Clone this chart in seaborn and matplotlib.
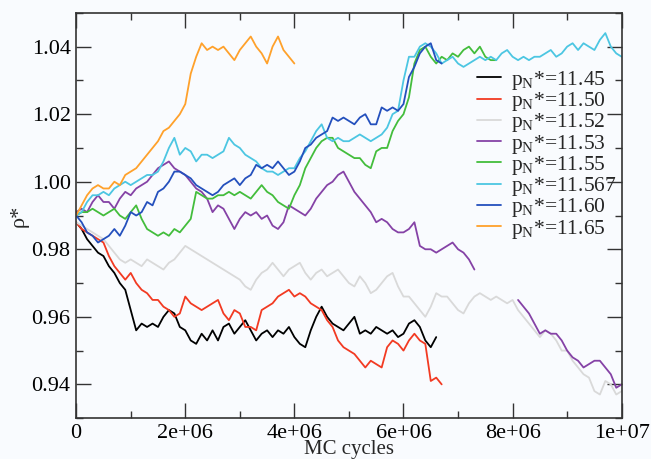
import numpy as np
import pandas as pd
import seaborn as sns
import matplotlib.pyplot as plt
from matplotlib.ticker import MultipleLocator

step = 1e5

rho_1145 = [0.988, 0.986, 0.983, 0.981, 0.979, 0.978, 0.975, 0.973, 0.970, 0.968,
            0.962, 0.956, 0.958, 0.957, 0.958, 0.957, 0.960, 0.962, 0.961, 0.957,
            0.956, 0.953, 0.952, 0.955, 0.953, 0.956, 0.953, 0.957, 0.958, 0.955,
            0.957, 0.959, 0.956, 0.953, 0.955, 0.956, 0.954, 0.956, 0.955, 0.957,
            0.954, 0.952, 0.951, 0.956, 0.960, 0.963, 0.960, 0.958, 0.957, 0.956,
            0.958, 0.960, 0.955, 0.956, 0.955, 0.957, 0.956, 0.955, 0.956, 0.954,
            0.955, 0.958, 0.959, 0.957, 0.953, 0.951, 0.954]

rho_1150 = [0.988, 0.986, 0.985, 0.984, 0.983, 0.982, 0.978, 0.975, 0.973, 0.971,
            0.973, 0.970, 0.968, 0.967, 0.965, 0.965, 0.963, 0.962, 0.960, 0.961,
            0.966, 0.964, 0.963, 0.962, 0.963, 0.964, 0.965, 0.961, 0.959, 0.962,
            0.961, 0.957, 0.957, 0.956, 0.962, 0.963, 0.964, 0.966, 0.967, 0.968,
            0.966, 0.967, 0.966, 0.964, 0.963, 0.962, 0.959, 0.957, 0.953, 0.951,
            0.950, 0.949, 0.947, 0.945, 0.947, 0.946, 0.945, 0.951, 0.953, 0.952,
            0.950, 0.953, 0.955, 0.953, 0.952, 0.941, 0.942, 0.940]

rho_1152 = [0.988, 0.987, 0.986, 0.985, 0.984, 0.983, 0.981, 0.979, 0.977, 0.976,
            0.977, 0.976, 0.975, 0.977, 0.976, 0.975, 0.974, 0.976, 0.977, 0.979,
            0.981, 0.980, 0.979, 0.978, 0.977, 0.976, 0.975, 0.974, 0.973, 0.972,
            0.971, 0.969, 0.968, 0.971, 0.973, 0.974, 0.976, 0.974, 0.972, 0.974,
            0.975, 0.976, 0.973, 0.971, 0.973, 0.974, 0.972, 0.973, 0.974, 0.972,
            0.970, 0.969, 0.972, 0.970, 0.967, 0.968, 0.970, 0.972, 0.973, 0.969,
            0.966, 0.966, 0.964, 0.962, 0.960, 0.963, 0.967, 0.966, 0.966, 0.964,
            0.962, 0.961, 0.964, 0.966, 0.967, 0.966, 0.965, 0.966, 0.965, 0.964,
            0.965, 0.962, 0.960, 0.958, 0.956, 0.954, 0.956, 0.955, 0.953, 0.950,
            0.950, 0.947, 0.945, 0.943, 0.942, 0.938, 0.937, 0.941, 0.940, 0.937,
            0.938]

rho_1153 = [0.991, 0.992, 0.991, 0.994, 0.996, 0.994, 0.994, 0.992, 0.995, 0.997,
            0.996, 0.998, 0.999, 1.000, 1.002, 1.004, 1.005, 1.006, 1.004, 1.003,
            1.002, 1.000, 0.998, 0.997, 0.995, 0.991, 0.993, 0.992, 0.989, 0.986,
            0.989, 0.991, 0.990, 0.991, 0.989, 0.990, 0.987, 0.986, 0.988, 0.993,
            0.992, 0.991, 0.990, 0.992, 0.995, 0.997, 0.999, 1.000, 1.002, 1.003,
            1.000, 0.997, 0.995, 0.993, 0.991, 0.988, 0.989, 0.988, 0.986, 0.985,
            0.985, 0.986, 0.988, 0.981, 0.980, 0.980, 0.979, 0.980, 0.981, 0.982,
            0.980, 0.979, 0.977, 0.974]
# the same run, seen again after the gap (8.1e6 .. 1e7)
rho_1153_late = [0.965, 0.963, 0.961, 0.958, 0.955, 0.956, 0.955, 0.955, 0.953, 0.950,
                 0.948, 0.947, 0.945, 0.946, 0.947, 0.947, 0.945, 0.943, 0.939, 0.940]
late_start = 8.1e6

rho_1155 = [0.990, 0.991, 0.991, 0.992, 0.991, 0.990, 0.991, 0.992, 0.990, 0.989,
            0.991, 0.993, 0.989, 0.986, 0.985, 0.984, 0.985, 0.984, 0.986, 0.985,
            0.987, 0.989, 0.997, 0.996, 0.995, 0.995, 0.996, 0.996, 0.997, 0.996,
            0.997, 0.996, 0.995, 0.997, 0.999, 0.997, 0.996, 0.994, 0.993, 0.992,
            0.996, 0.999, 1.004, 1.007, 1.010, 1.012, 1.013, 1.013, 1.010, 1.009,
            1.008, 1.007, 1.007, 1.005, 1.004, 1.009, 1.010, 1.010, 1.015, 1.018,
            1.020, 1.025, 1.035, 1.039, 1.040, 1.037, 1.035, 1.037, 1.036, 1.038,
            1.037, 1.039, 1.040, 1.038, 1.040, 1.037, 1.036, 1.036]

rho_11567 = [0.990, 0.991, 0.994, 0.996, 0.996, 0.997, 0.996, 0.998, 0.999, 1.000,
             0.999, 1.000, 1.001, 1.002, 1.002, 1.003, 1.006, 1.010, 1.013, 1.008,
             1.010, 1.009, 1.006, 1.008, 1.008, 1.007, 1.008, 1.009, 1.013, 1.011,
             1.010, 1.008, 1.007, 1.006, 1.004, 1.003, 1.003, 1.002, 1.003, 1.004,
             1.004, 1.007, 1.009, 1.012, 1.015, 1.017, 1.013, 1.012, 1.013, 1.012,
             1.012, 1.013, 1.014, 1.013, 1.012, 1.013, 1.014, 1.016, 1.020, 1.021,
             1.030, 1.037, 1.037, 1.040, 1.041, 1.040, 1.038, 1.035, 1.036, 1.037,
             1.035, 1.034, 1.035, 1.036, 1.037, 1.036, 1.037, 1.036, 1.038, 1.039,
             1.037, 1.036, 1.037, 1.036, 1.037, 1.037, 1.038, 1.039, 1.037, 1.038,
             1.040, 1.041, 1.039, 1.041, 1.040, 1.039, 1.042, 1.044, 1.040, 1.038,
             1.037]

rho_1160 = [0.990, 0.988, 0.985, 0.984, 0.982, 0.983, 0.984, 0.986, 0.984, 0.987,
            0.991, 0.990, 0.991, 0.994, 0.993, 0.997, 0.998, 1.000, 1.003, 1.003,
            1.002, 1.001, 0.999, 0.998, 0.997, 0.996, 0.997, 0.999, 1.000, 1.001,
            0.999, 1.001, 1.002, 1.005, 1.004, 1.005, 1.004, 1.006, 1.004, 1.002,
            1.003, 1.006, 1.010, 1.011, 1.013, 1.014, 1.015, 1.019, 1.018, 1.019,
            1.018, 1.017, 1.019, 1.020, 1.017, 1.017, 1.022, 1.021, 1.022, 1.021,
            1.023, 1.031, 1.034, 1.038, 1.040, 1.041, 1.036, 1.035]

rho_1165 = [0.990, 0.993, 0.996, 0.998, 0.999, 0.998, 0.998, 1.000, 0.999, 1.002,
            1.003, 1.004, 1.006, 1.008, 1.010, 1.012, 1.015, 1.016, 1.018, 1.020,
            1.023, 1.032, 1.037, 1.041, 1.039, 1.040, 1.039, 1.040, 1.038, 1.036,
            1.039, 1.041, 1.043, 1.040, 1.038, 1.035, 1.040, 1.043, 1.039, 1.037,
            1.035]

labels = ['11.45', '11.50', '11.52', '11.53', '11.55', '11.567', '11.60', '11.65']
series = [rho_1145, rho_1150, rho_1152, rho_1153, rho_1155, rho_11567, rho_1160, rho_1165]
colors = ['#000000', '#f23a22', '#d9d9d9', '#8542a6', '#43bd3c', '#4cc6e2', '#2450bd', '#ffa12b']

xtick_vals = [0, 2e6, 4e6, 6e6, 8e6, 1e7]
xtick_text = ['0', '2e+06', '4e+06', '6e+06', '8e+06', '1e+07']
ytick_vals = [0.94, 0.96, 0.98, 1.00, 1.02, 1.04]
ytick_text = ['0.94', '0.96', '0.98', '1.00', '1.02', '1.04']

sns.set_theme(style='ticks')
serif = 'Liberation Serif'
plt.rcParams['font.family'] = [serif, 'DejaVu Serif']
plt.rcParams['mathtext.fontset'] = 'custom'
plt.rcParams['mathtext.rm'] = serif
plt.rcParams['mathtext.it'] = serif + ':italic'

bg = '#f9fbfe'
fig, ax = plt.subplots(figsize=(6.51, 4.59), dpi=100)
fig.patch.set_facecolor(bg)
ax.set_facecolor(bg)
fig.subplots_adjust(left=0.117, right=0.955, top=0.972, bottom=0.089)

for lab, ys, col in zip(labels, series, colors):
    df = pd.DataFrame({'x': np.arange(len(ys)) * step, 'rho': ys})
    sns.lineplot(data=df, x='x', y='rho', color=col, lw=1.3, ax=ax,
                 label=r'p$_{\mathrm{N}}$*=' + lab)

df_late = pd.DataFrame({'x': late_start + np.arange(len(rho_1153_late)) * step,
                        'rho': rho_1153_late})
sns.lineplot(data=df_late, x='x', y='rho', color=colors[3], lw=1.3, ax=ax, legend=False)

ax.set_xlim(0, 1e7)
ax.set_ylim(0.93, 1.05)
ax.xaxis.set_minor_locator(MultipleLocator(1e6))
ax.yaxis.set_minor_locator(MultipleLocator(0.01))
ax.set_xticks(xtick_vals)
ax.set_xticklabels(xtick_text, fontfamily=serif, fontsize=16)
ax.set_yticks(ytick_vals)
ax.set_yticklabels(ytick_text, fontfamily=serif, fontsize=16)
ax.tick_params(which='both', direction='in', top=True, right=True, colors='#333333',
               labelcolor='black', pad=4)
ax.tick_params(which='major', length=11, width=1)
ax.tick_params(which='minor', length=5, width=1)
for sp in ax.spines.values():
    sp.set_color('#333333')
    sp.set_linewidth(1.2)

ax.set_xlabel('MC cycles', fontsize=15, fontfamily=serif, labelpad=-2)
ax.set_ylabel('ρ*', fontsize=16, fontfamily=serif, labelpad=2)

ax.legend(loc='upper left', bbox_to_anchor=(0.735, 0.862), frameon=False,
          prop={'family': serif, 'size': 15.5}, handlelength=1.1, handletextpad=0.45,
          labelspacing=-0.08, borderpad=0, borderaxespad=0)

plt.savefig('out.png', dpi=100, facecolor=bg)
